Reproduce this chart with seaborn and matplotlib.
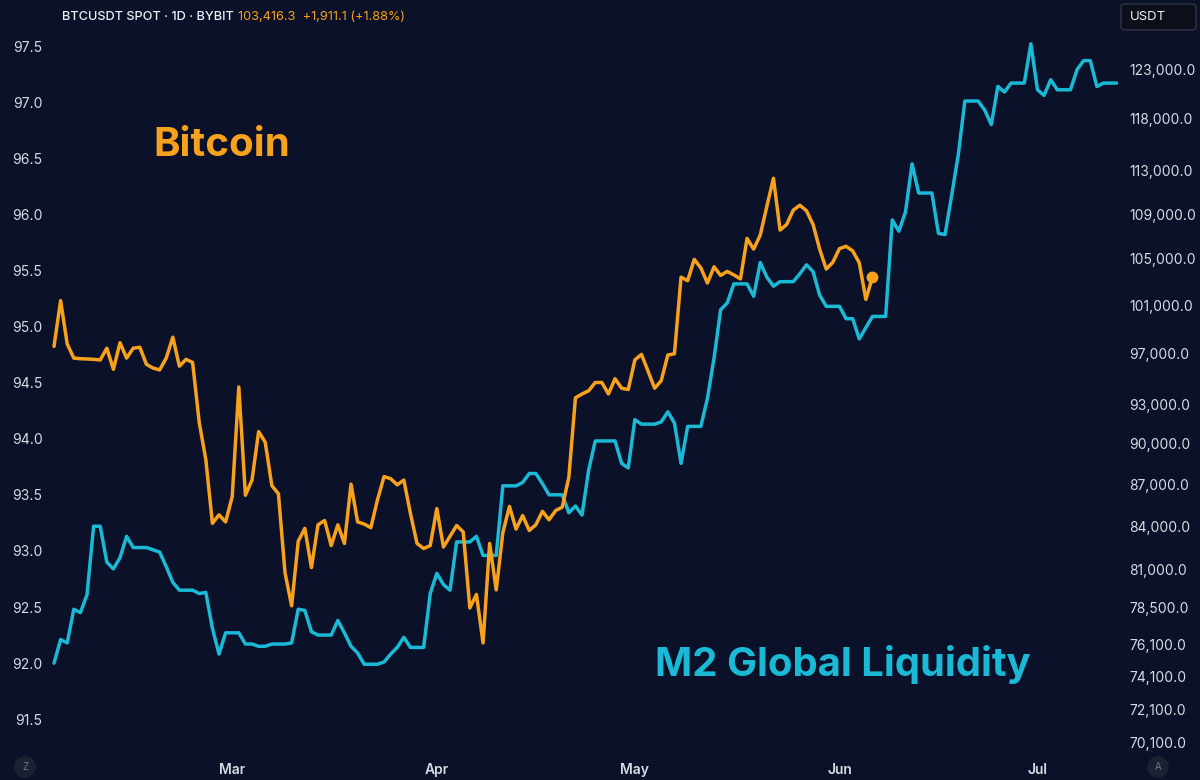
"""BTC vs M2 global liquidity overlay, TradingView style."""
import numpy as np
import pandas as pd
import matplotlib
matplotlib.use("Agg")
import matplotlib.pyplot as plt
from matplotlib.patches import FancyBboxPatch
from matplotlib.ticker import FixedLocator, NullLocator, FuncFormatter
import seaborn as sns

# daily BTCUSDT close, starting 2025-02-02
btc_start = "2025-02-02"
btc_close = [
    97600, 101400, 97800, 96650, 96600, 96580, 96550, 96500, 97450, 95750,
    97900, 96650, 97450, 97530, 96150, 95850, 95700, 96650, 98350, 96000,
    96550, 96300, 91600, 88800, 84200, 84800, 84300, 86100, 94350, 86200,
    87300, 90900, 90100, 86900, 86300, 80800, 78600, 82950, 83850, 81150,
    84100, 84400, 82650, 84100, 82800, 87000, 84300, 84150, 83900, 85850,
    87550, 87400, 86950, 87300, 84900, 82800, 82450, 82650, 85250, 82550,
    83300, 84050, 83600, 78460, 79350, 76200, 82800, 79650, 83550, 85400,
    83800, 84750, 83700, 84100, 85050, 84450, 85100, 85350, 87500, 93500,
    93800, 94050, 94700, 94700, 93800, 95000, 94250, 94150, 96500, 96950,
    95600, 94250, 94850, 96900, 97000, 103400, 103100, 104950, 104200, 102900,
    104300, 103550, 103900, 103600, 103250, 106800, 105850, 107100, 109700, 112300,
    107550, 108050, 109350, 109800, 109300, 108050, 105850, 104100, 104700, 105900,
    106100, 105700, 104650, 101500, 103416.3,
]

# M2 global liquidity (shifted forward), same start date
m2_start = "2025-02-02"
m2_value = [
    92.00, 92.21, 92.18, 92.48, 92.45, 92.61, 93.22, 93.22, 92.90, 92.84,
    92.94, 93.13, 93.03, 93.03, 93.03, 93.01, 92.99, 92.86, 92.72, 92.65,
    92.65, 92.65, 92.62, 92.63, 92.31, 92.08, 92.27, 92.27, 92.27, 92.17,
    92.17, 92.15, 92.15, 92.17, 92.17, 92.17, 92.18, 92.48, 92.47, 92.28,
    92.25, 92.25, 92.25, 92.38, 92.27, 92.15, 92.09, 91.99, 91.99, 91.99,
    92.01, 92.08, 92.14, 92.23, 92.14, 92.14, 92.14, 92.62, 92.80, 92.70,
    92.65, 93.08, 93.08, 93.08, 93.13, 92.96, 92.96, 92.96, 93.58, 93.58,
    93.58, 93.61, 93.69, 93.69, 93.60, 93.50, 93.50, 93.50, 93.34, 93.40,
    93.32, 93.72, 93.98, 93.98, 93.98, 93.98, 93.78, 93.74, 94.17, 94.13,
    94.13, 94.13, 94.15, 94.24, 94.14, 93.78, 94.11, 94.11, 94.11, 94.36,
    94.72, 95.15, 95.21, 95.38, 95.38, 95.38, 95.27, 95.57, 95.44, 95.36,
    95.40, 95.40, 95.40, 95.47, 95.55, 95.49, 95.28, 95.18, 95.18, 95.18,
    95.07, 95.07, 94.89, 94.99, 95.09, 95.09, 95.09, 95.95, 95.85, 96.02,
    96.45, 96.19, 96.19, 96.19, 95.83, 95.82, 96.17, 96.53, 97.01, 97.01,
    97.01, 96.93, 96.80, 97.14, 97.09, 97.17, 97.17, 97.17, 97.52, 97.11,
    97.06, 97.20, 97.11, 97.11, 97.11, 97.29, 97.37, 97.37, 97.14, 97.17,
    97.17, 97.17,
]

left_ticks = [91.5, 92.0, 92.5, 93.0, 93.5, 94.0, 94.5, 95.0, 95.5, 96.0, 96.5, 97.0, 97.5]
right_ticks = [70100, 72100, 74100, 76100, 78500, 81000, 84000, 87000, 90000,
               93000, 97000, 101000, 105000, 109000, 113000, 118000, 123000]
month_ticks = ["2025-03-01", "2025-04-01", "2025-05-01", "2025-06-01", "2025-07-01"]
month_labels = ["Mar", "Apr", "May", "Jun", "Jul"]

BG = "#0a1128"
ORANGE = "#f8a11c"
CYAN = "#1ab9d5"
TXT = "#d8dbe2"

btc = pd.DataFrame({"date": pd.date_range(btc_start, periods=len(btc_close), freq="D"),
                    "close": btc_close})
m2 = pd.DataFrame({"date": pd.date_range(m2_start, periods=len(m2_value), freq="D"),
                   "value": m2_value})

sns.set_theme(style="dark")
plt.rcParams["font.family"] = ["Inter", "DejaVu Sans"]

W, H = 1200, 780
fig = plt.figure(figsize=(12, 7.8), dpi=100, facecolor=BG)
# axes box in pixels: x 48..1118, y 30..755
ax = fig.add_axes([48 / W, 1 - 755 / H, (1118 - 48) / W, (755 - 30) / H])
ax.set_facecolor(BG)
ax2 = ax.twinx()

sns.lineplot(data=m2, x="date", y="value", ax=ax, color=CYAN, linewidth=2.5)
sns.lineplot(data=btc, x="date", y="close", ax=ax2, color=ORANGE, linewidth=2.5)
ax2.plot(btc["date"].iloc[-1], btc["close"].iloc[-1], "o", color=ORANGE, markersize=7.5)

d0 = pd.Timestamp(btc_start)
ax.set_xlim(d0 - pd.Timedelta(days=0.91), d0 + pd.Timedelta(days=161.2))
ax.set_ylim(91.181, 97.643)
ax2.set_yscale("log")
ax2.set_ylim(69400, 127090)

ax.yaxis.set_major_locator(FixedLocator(left_ticks))
ax.yaxis.set_major_formatter(FuncFormatter(lambda v, p: f"{v:.1f}"))
ax2.yaxis.set_major_locator(FixedLocator(right_ticks))
ax2.yaxis.set_minor_locator(NullLocator())
ax2.yaxis.set_major_formatter(FuncFormatter(lambda v, p: f"{v:,.1f}"))

ax.set_xticks(pd.to_datetime(month_ticks))
ax.set_xticklabels(month_labels, fontweight="semibold")

for a in (ax, ax2):
    a.set_xlabel("")
    a.set_ylabel("")
    a.grid(False)
    for s in a.spines.values():
        s.set_visible(False)
    a.tick_params(length=0, colors=TXT, labelsize=10)
ax.tick_params(axis="y", pad=4)
ax.tick_params(axis="x", pad=6, labelsize=10)
ax2.tick_params(axis="y", pad=8)

# header
fig.text(62 / W, 1 - 17 / H, "BTCUSDT SPOT · 1D · BYBIT", color="#eef0f4",
         fontsize=9.2, fontweight="medium", va="center", ha="left")
fig.text(238 / W, 1 - 17 / H, "103,416.3  +1,911.1 (+1.88%)", color=ORANGE,
         fontsize=9.2, va="center", ha="left")

# currency box
fig.patches.append(FancyBboxPatch((1121 / W, 1 - 30 / H), 75 / W, 26 / H,
                                  boxstyle="round,pad=0,rounding_size=0.004",
                                  transform=fig.transFigure, facecolor="#0c0f1a",
                                  edgecolor="#3a3f50", linewidth=0.8))
fig.text(1130 / W, 1 - 17 / H, "USDT", color="#eef0f4", fontsize=9.5,
         va="center", ha="left")

# Z / A buttons
for px, letter in [(25, "Z"), (1158, "A")]:
    fig.text(px / W, 1 - 767 / H, letter, color="#6e7384", fontsize=7,
             ha="center", va="center",
             bbox=dict(boxstyle="circle,pad=0.6", facecolor="#1c2131", edgecolor="none"))

# series labels
fig.text(153 / W, 1 - 145 / H, "Bitcoin", color=ORANGE, fontsize=29,
         fontweight="bold", va="center", ha="left")
fig.text(655 / W, 1 - 664 / H, "M2 Global Liquidity", color=CYAN, fontsize=28.8,
         fontweight="bold", va="center", ha="left")

fig.savefig("out.png", dpi=100, facecolor=BG)
